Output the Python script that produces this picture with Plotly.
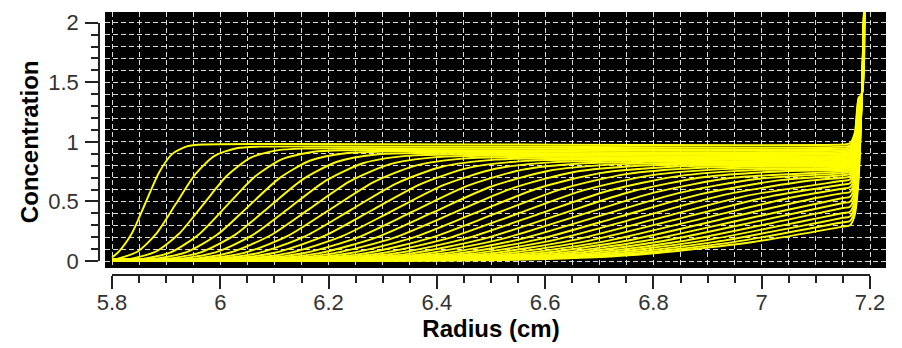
import plotly.graph_objects as go

# ---------------- data ----------------
# radius (cm) of each point of every scan
SCAN_R = [
    [5.80, 5.8126, 5.8373, 5.862, 5.8867, 5.9114, 5.9397, 5.968, 7.15, 7.163, 7.172, 7.179, 7.185, 7.19],
    [5.80, 5.8058, 5.8466, 5.8823, 5.918, 5.9537, 5.9894, 6.0302, 6.071, 7.15, 7.163, 7.172, 7.179, 7.185, 7.19],
    [5.80, 5.8292, 5.8797, 5.9238, 5.968, 6.0122, 6.0563, 6.1068, 6.157, 7.15, 7.163, 7.172, 7.179, 7.185, 7.19],
    [5.80, 5.8512, 5.9097, 5.9608, 6.012, 6.0632, 6.1143, 6.1728, 6.231, 7.15, 7.163, 7.172, 7.179, 7.185, 7.19],
    [5.80, 5.872, 5.9375, 5.9947, 6.052, 6.1093, 6.1665, 6.232, 6.297, 7.15, 7.163, 7.172, 7.179, 7.185, 7.19],
    [5.80, 5.8922, 5.9641, 6.0271, 6.090, 6.1529, 6.2159, 6.2878, 6.360, 7.15, 7.163, 7.172, 7.179, 7.185, 7.19],
    [5.80, 5.9128, 5.9911, 6.0595, 6.128, 6.1965, 6.2649, 6.3432, 6.421, 7.15, 7.163, 7.172, 7.179, 7.185, 7.19],
    [5.80, 5.9337, 6.0182, 6.0921, 6.166, 6.2399, 6.3138, 6.3983, 6.483, 7.15, 7.163, 7.172, 7.179, 7.185, 7.19],
    [5.80, 5.955, 6.0455, 6.1248, 6.204, 6.2832, 6.3625, 6.453, 6.544, 7.15, 7.163, 7.172, 7.179, 7.185, 7.19],
    [5.80, 5.9762, 6.0729, 6.1574, 6.242, 6.3266, 6.4111, 6.5078, 6.604, 7.15, 7.163, 7.172, 7.179, 7.185, 7.19],
    [5.80, 5.9975, 6.1002, 6.1901, 6.280, 6.3699, 6.4598, 6.5625, 6.665, 7.15, 7.163, 7.172, 7.179, 7.185, 7.19],
    [5.80, 6.0192, 6.1279, 6.2229, 6.318, 6.4131, 6.5081, 6.6168, 6.725, 7.15, 7.163, 7.172, 7.179, 7.185, 7.19],
    [5.80, 6.041, 6.1555, 6.2558, 6.356, 6.4562, 6.5565, 6.671, 6.786, 7.15, 7.163, 7.172, 7.179, 7.185, 7.19],
    [5.80, 6.0627, 6.1832, 6.2886, 6.394, 6.4994, 6.6048, 6.7253, 6.846, 7.15, 7.163, 7.172, 7.179, 7.185, 7.19],
    [5.80, 6.0844, 6.2108, 6.3214, 6.432, 6.5426, 6.6532, 6.7796, 6.906, 7.15, 7.163, 7.172, 7.179, 7.185, 7.19],
    [5.80, 6.1063, 6.2386, 6.3543, 6.470, 6.5857, 6.7014, 6.8337, 6.966, 7.15, 7.163, 7.172, 7.179, 7.185, 7.19],
    [5.80, 6.1283, 6.2664, 6.3872, 6.508, 6.6288, 6.7496, 6.8877, 7.026, 7.15, 7.163, 7.172, 7.179, 7.185, 7.19],
    [5.80, 6.1502, 6.2941, 6.4201, 6.546, 6.6719, 6.7979, 6.9418, 7.15, 7.163, 7.172, 7.179, 7.185, 7.19],
    [5.80, 6.1724, 6.3221, 6.453, 6.584, 6.715, 6.8459, 6.9956, 7.15, 7.163, 7.172, 7.179, 7.185, 7.19],
    [5.80, 6.1945, 6.35, 6.486, 6.622, 6.758, 6.894, 7.0495, 7.15, 7.163, 7.172, 7.179, 7.185, 7.19],
    [5.80, 6.2165, 6.3778, 6.5189, 6.660, 6.8011, 6.9422, 7.15, 7.163, 7.172, 7.179, 7.185, 7.19],
    [5.80, 6.2386, 6.4057, 6.5518, 6.698, 6.8442, 6.9903, 7.15, 7.163, 7.172, 7.179, 7.185, 7.19],
    [5.80, 6.2608, 6.4336, 6.5848, 6.736, 6.8872, 7.0384, 7.15, 7.163, 7.172, 7.179, 7.185, 7.19],
    [5.80, 6.2832, 6.4617, 6.6178, 6.774, 6.9302, 7.0863, 7.15, 7.163, 7.172, 7.179, 7.185, 7.19],
    [5.80, 6.3053, 6.4896, 6.6508, 6.812, 6.9732, 7.15, 7.163, 7.172, 7.179, 7.185, 7.19],
    [5.80, 6.3275, 6.5175, 6.6838, 6.850, 7.0163, 7.15, 7.163, 7.172, 7.179, 7.185, 7.19],
    [5.80, 6.3499, 6.5456, 6.7168, 6.888, 7.0592, 7.15, 7.163, 7.172, 7.179, 7.185, 7.19],
    [5.80, 6.3723, 6.5736, 6.7498, 6.926, 7.1022, 7.15, 7.163, 7.172, 7.179, 7.185, 7.19],
    [5.80, 6.3944, 6.6015, 6.7828, 6.964, 7.15, 7.163, 7.172, 7.179, 7.185, 7.19],
    [5.80, 6.4168, 6.6296, 6.8158, 7.002, 7.15, 7.163, 7.172, 7.179, 7.185, 7.19],
    [5.80, 6.4392, 6.6577, 6.8488, 7.040, 7.15, 7.163, 7.172, 7.179, 7.185, 7.19],
    [5.80, 6.4616, 6.6857, 6.8819, 7.078, 7.15, 7.163, 7.172, 7.179, 7.185, 7.19],
    [5.80, 6.4837, 6.7136, 6.9148, 7.116, 7.15, 7.163, 7.172, 7.179, 7.185, 7.19],
    [5.80, 6.5061, 6.7417, 6.9479, 7.15, 7.163, 7.172, 7.179, 7.185, 7.19],
    [5.80, 6.5285, 6.7698, 6.9809, 7.15, 7.163, 7.172, 7.179, 7.185, 7.19],
]

# concentration of each point of every scan
SCAN_C = [
    [0.030, 0.079, 0.237, 0.489, 0.741, 0.899, 0.964, 0.978, 0.978, 0.988, 1.078, 1.370, 1.40, 2.30],
    [0.010, 0.0133, 0.0775, 0.2322, 0.4798, 0.7274, 0.8821, 0.9463, 0.9596, 0.9596, 0.970, 1.060, 1.360, 1.40, 2.30],
    [0.004, 0.0131, 0.0762, 0.2284, 0.4718, 0.7152, 0.8674, 0.9305, 0.9436, 0.9436, 0.954, 1.044, 1.344, 1.40, 2.30],
    [0.002, 0.0129, 0.0751, 0.2250, 0.4649, 0.7048, 0.8547, 0.9169, 0.9298, 0.9298, 0.940, 1.030, 1.330, 1.40, 2.30],
    [0.003, 0.0128, 0.0741, 0.2221, 0.4588, 0.6955, 0.8435, 0.9048, 0.9176, 0.9176, 0.928, 1.018, 1.318, 1.40, 2.30],
    [0.003, 0.0126, 0.0732, 0.2193, 0.4531, 0.6868, 0.8329, 0.8935, 0.9061, 0.9061, 0.916, 1.006, 1.306, 1.40, 2.30],
    [0.004, 0.0124, 0.0723, 0.2166, 0.4475, 0.6783, 0.8226, 0.8825, 0.8949, 0.8949, 0.905, 0.995, 1.295, 1.40, 2.30],
    [0.004, 0.0123, 0.0714, 0.2139, 0.4420, 0.6700, 0.8125, 0.8716, 0.8839, 0.8839, 0.894, 0.984, 1.284, 1.40, 2.30],
    [0.005, 0.0121, 0.0705, 0.2113, 0.4366, 0.6618, 0.8026, 0.8610, 0.8731, 0.8731, 0.883, 0.973, 1.273, 1.40, 2.30],
    [0.005, 0.0120, 0.0697, 0.2087, 0.4313, 0.6538, 0.7928, 0.8505, 0.8625, 0.8625, 0.873, 0.963, 1.263, 1.40, 2.30],
    [0.006, 0.0118, 0.0689, 0.2062, 0.4261, 0.6459, 0.7833, 0.8403, 0.8521, 0.8521, 0.862, 0.952, 1.252, 1.40, 2.30],
    [0.006, 0.0117, 0.0680, 0.2037, 0.4210, 0.6382, 0.7739, 0.8302, 0.8419, 0.8419, 0.852, 0.942, 1.242, 1.40, 2.30],
    [0.007, 0.0116, 0.0672, 0.2013, 0.4160, 0.6306, 0.7647, 0.8204, 0.8319, 0.8319, 0.842, 0.932, 1.232, 1.40, 2.30],
    [0.007, 0.0114, 0.0664, 0.1989, 0.4110, 0.6231, 0.7556, 0.8106, 0.8220, 0.8220, 0.832, 0.922, 1.222, 1.40, 2.30],
    [0.008, 0.0113, 0.0656, 0.1966, 0.4062, 0.6157, 0.7467, 0.8010, 0.8123, 0.8123, 0.822, 0.912, 1.212, 1.40, 2.30],
    [0.008, 0.0112, 0.0649, 0.1943, 0.4014, 0.6085, 0.7379, 0.7916, 0.8028, 0.8028, 0.813, 0.903, 1.203, 1.40, 2.30],
    [0.009, 0.0110, 0.0641, 0.1920, 0.3968, 0.6015, 0.7294, 0.7825, 0.7935, 0.7935, 0.804, 0.894, 1.194, 1.40, 2.30],
    [0.009, 0.0109, 0.0634, 0.1898, 0.3922, 0.5945, 0.7209, 0.7734, 0.784, 0.794, 0.884, 1.184, 1.40, 2.30],
    [0.010, 0.0108, 0.0626, 0.1876, 0.3877, 0.5877, 0.7127, 0.7645, 0.774, 0.784, 0.874, 1.174, 1.40, 2.30],
    [0.010, 0.0107, 0.0619, 0.1855, 0.3832, 0.5809, 0.7045, 0.7557, 0.764, 0.774, 0.864, 1.164, 1.40, 2.30],
    [0.011, 0.0105, 0.0612, 0.1834, 0.3789, 0.5743, 0.6965, 0.752, 0.762, 0.852, 1.152, 1.40, 2.30],
    [0.011, 0.0104, 0.0605, 0.1813, 0.3746, 0.5678, 0.6886, 0.738, 0.748, 0.838, 1.138, 1.40, 2.30],
    [0.012, 0.0103, 0.0598, 0.1793, 0.3704, 0.5615, 0.6808, 0.720, 0.730, 0.820, 1.120, 1.40, 2.30],
    [0.012, 0.0102, 0.0592, 0.1772, 0.3662, 0.5552, 0.6732, 0.699, 0.709, 0.799, 1.099, 1.40, 2.30],
    [0.013, 0.0101, 0.0585, 0.1753, 0.3621, 0.5489, 0.673, 0.683, 0.773, 1.073, 1.40, 2.30],
    [0.013, 0.0100, 0.0579, 0.1733, 0.3581, 0.5429, 0.642, 0.652, 0.742, 1.042, 1.40, 2.30],
    [0.013, 0.0098, 0.0572, 0.1714, 0.3542, 0.5370, 0.608, 0.618, 0.708, 1.008, 1.40, 2.30],
    [0.014, 0.0097, 0.0566, 0.1695, 0.3503, 0.5311, 0.570, 0.580, 0.670, 0.970, 1.40, 2.30],
    [0.014, 0.0096, 0.0560, 0.1677, 0.3465, 0.529, 0.539, 0.629, 0.929, 1.40, 2.30],
    [0.014, 0.0095, 0.0554, 0.1659, 0.3428, 0.487, 0.497, 0.587, 0.887, 1.40, 2.30],
    [0.015, 0.0094, 0.0548, 0.1641, 0.3391, 0.445, 0.455, 0.545, 0.845, 1.40, 2.30],
    [0.015, 0.0093, 0.0542, 0.1623, 0.3354, 0.403, 0.413, 0.503, 0.803, 1.40, 2.30],
    [0.015, 0.0092, 0.0536, 0.1606, 0.3319, 0.363, 0.373, 0.463, 0.763, 1.40, 2.30],
    [0.016, 0.0091, 0.0531, 0.1589, 0.325, 0.335, 0.425, 0.725, 1.40, 2.30],
    [0.016, 0.0090, 0.0525, 0.1572, 0.289, 0.299, 0.389, 0.689, 1.40, 2.30],
]

X_TICK_VALS = [5.8, 6.0, 6.2, 6.4, 6.6, 6.8, 7.0, 7.2]
X_TICK_TEXT = ["5.8", "6", "6.2", "6.4", "6.6", "6.8", "7", "7.2"]
Y_TICK_VALS = [0, 0.5, 1.0, 1.5, 2.0]
Y_TICK_TEXT = ["0", "0.5", "1", "1.5", "2"]

X_TITLE = "Radius (cm)"
Y_TITLE = "Concentration"

# ---------------- geometry (page pixels of the 902x348 window) ----------------
PAGE_W, PAGE_H = 902, 348
OFF = 8                                   # default body margin of the html page
W, H = PAGE_W - OFF, PAGE_H - OFF
AX_Y_PX, AX_X_PX = 99, 275                # y-axis line (x px), x-axis line (y px)
BLACK_L, BLACK_R, BLACK_T, BLACK_B = 105, 886, 12, 268
X0_PX, X1_PX = 112, 870                   # 5.8 and 7.2
Y0_PX, Y2_PX = 261, 22.7                  # 0 and 2

ML = AX_Y_PX - OFF
MT = BLACK_T - OFF
MR = W - (BLACK_R - OFF)
MB = H - (AX_X_PX - OFF)
PW, PH = W - ML - MR, H - MT - MB

ppx = (X1_PX - X0_PX) / (7.2 - 5.8)
ppy = (Y0_PX - Y2_PX) / 2.0
x_lo = 5.8 - (X0_PX - BLACK_L) / ppx
x_hi = 7.2 + (BLACK_R - X1_PX) / ppx
y_lo = 0 - (BLACK_B - Y0_PX) / ppy
y_hi = 2 + (Y2_PX - BLACK_T) / ppy

FONT = "Arial, Liberation Sans, Helvetica, sans-serif"
AXC = "#222222"

fig = go.Figure()
for r, c in zip(SCAN_R, SCAN_C):
    fig.add_trace(go.Scatter(
        x=r, y=c, mode="lines",
        line=dict(color="#ffff00", width=1.9, shape="spline", smoothing=0.7),
        showlegend=False, hoverinfo="skip"))

# carrier trace for the drawn (offset) axes
fig.add_trace(go.Scatter(x=[None], y=[None], xaxis="x2", yaxis="y2",
                         showlegend=False, hoverinfo="skip"))

minor_x = [round(5.8 + 0.05 * i, 3) for i in range(29)]
minor_y = [round(0.1 * i, 3) for i in range(21)]

# black plotting area drawn beneath the grid of the data subplot
fig.add_shape(type="rect", xref="x domain", yref="y domain",
              x0=0, x1=1, y0=0, y1=1, fillcolor="black",
              line=dict(width=0), layer="below")

grid = dict(showgrid=True, gridcolor="#dadada", gridwidth=1, griddash="5px,3px",
            showticklabels=False, ticks="", showline=False, zeroline=False,
            automargin=False)
fig.update_layout(
    width=W, height=H,
    margin=dict(l=ML, r=MR, t=MT, b=MB, pad=0, autoexpand=False),
    paper_bgcolor="white", plot_bgcolor="rgba(0,0,0,0)",
    showlegend=False, hovermode=False,
    xaxis=dict(domain=[(BLACK_L - AX_Y_PX) / PW, 1], range=[x_lo, x_hi],
               tickmode="linear", tick0=5.8, dtick=0.05, **grid),
    yaxis=dict(domain=[(AX_X_PX - BLACK_B) / PH, 1], range=[y_lo, y_hi],
               tickmode="linear", tick0=0, dtick=0.1, **grid),
    xaxis2=dict(domain=[(X0_PX - AX_Y_PX) / PW, (X1_PX - AX_Y_PX) / PW], range=[5.8, 7.2],
                anchor="free", position=0, automargin=False,
                showline=True, linecolor=AXC, linewidth=1.5,
                tickmode="array", tickvals=X_TICK_VALS, ticktext=X_TICK_TEXT,
                ticks="outside", ticklen=13, tickwidth=1.5, tickcolor=AXC,
                minor=dict(tickmode="array", tickvals=minor_x, ticks="outside",
                           ticklen=7, tickwidth=1.5, tickcolor=AXC, showgrid=False),
                showgrid=False, zeroline=False, ticklabelstandoff=-5,
                tickfont=dict(family=FONT, size=22, color="#333333"),
                title=dict(text=X_TITLE, standoff=0,
                           font=dict(family=FONT, size=24, color="black", weight="bold"))),
    yaxis2=dict(domain=[(AX_X_PX - Y0_PX) / PH, (AX_X_PX - Y2_PX) / PH], range=[0, 2],
                anchor="free", position=0, automargin=False,
                showline=True, linecolor=AXC, linewidth=1.5,
                tickmode="array", tickvals=Y_TICK_VALS, ticktext=Y_TICK_TEXT,
                ticks="outside", ticklen=13, tickwidth=1.5, tickcolor=AXC,
                minor=dict(tickmode="array", tickvals=minor_y, ticks="outside",
                           ticklen=7, tickwidth=1.5, tickcolor=AXC, showgrid=False),
                showgrid=False, zeroline=False, ticklabelstandoff=2,
                tickfont=dict(family=FONT, size=22, color="#333333"),
                title=dict(text=Y_TITLE, standoff=2,
                           font=dict(family=FONT, size=24, color="black", weight="bold"))),
)

fig.write_html("out.html")
